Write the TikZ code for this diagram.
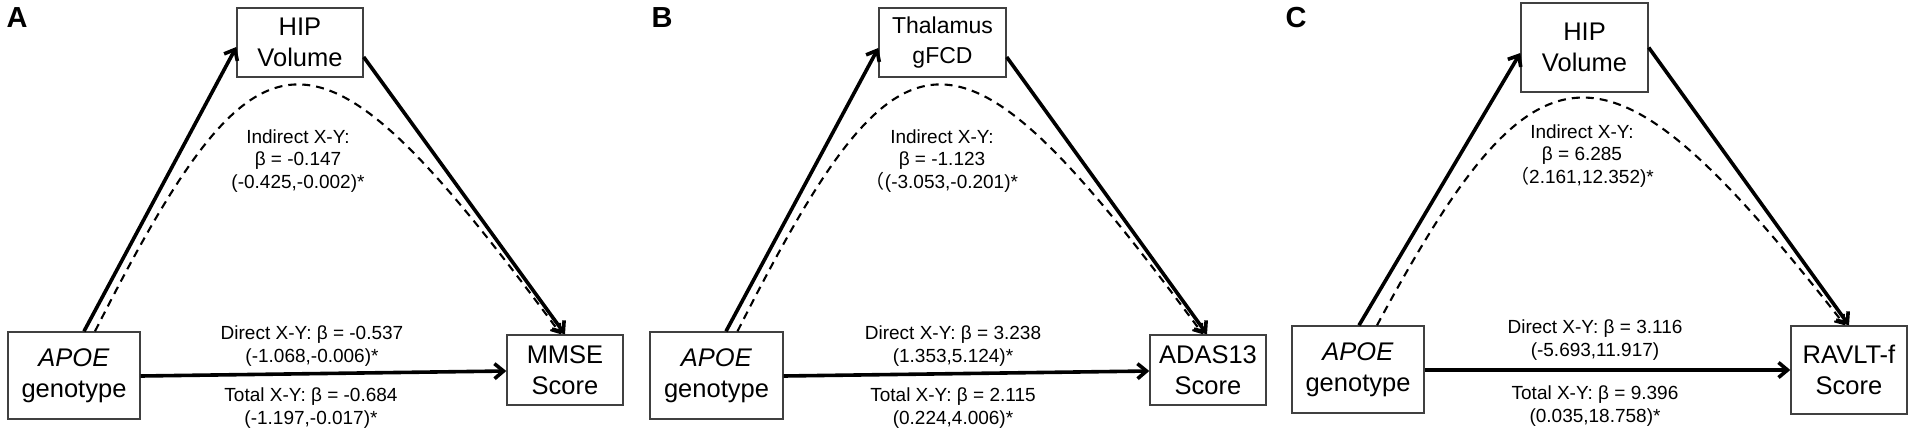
\documentclass[tikz,border=0pt]{standalone}
\usepackage{fontspec}
\setmainfont{Liberation Sans}
\newfontfamily\cjk{Noto Sans CJK SC}
\usetikzlibrary{arrows.meta,calc}
\begin{document}
\begin{tikzpicture}[x=1pt,y=-1pt,
  box/.style={draw=black!75,line width=1.4pt,inner sep=0pt,align=center,font=\fontsize{25.5}{31}\selectfont},
  lbl/.style={align=center,inner sep=0pt,font=\fontsize{19}{22.8}\selectfont},
  panellbl/.style={inner sep=0pt,font=\fontsize{29}{29}\selectfont\bfseries},
  effarrow/.style={line width=3.6pt,-{Straight Barb[length=9pt,width=15pt]}},
  indarrow/.style={line width=2.1pt,dash pattern=on 8pt off 6pt,-{Straight Barb[length=8pt,width=12pt]}}]
\useasboundingbox (0,0) rectangle (1917,437);

% ---------- Panel A ----------
\node[panellbl] (labA) at (17,18) {A};
\node[box,minimum width=132pt,minimum height=87pt] (xA) at (74,375.5) {\textit{APOE}\\genotype};
\node[box,minimum width=126pt,minimum height=69pt] (mA) at (300,42.5) {HIP\\Volume};
\node[box,minimum width=116pt,minimum height=70pt] (yA) at (565,370) {MMSE\\Score};
\draw[effarrow] ([xshift=10pt]xA.north) -- ([yshift=-4.5pt]mA.west);
\draw[effarrow] ([yshift=-14.5pt]mA.east) -- (yA.north);
\draw[effarrow] ([yshift=-0.5pt]xA.east) -- ([yshift=-1pt]yA.west);
\draw[indarrow] ([xshift=21pt]xA.north) .. controls (262,2) and (315,2) .. ([xshift=-4pt]yA.north);
\node[lbl] (iA) at (298,161) {Indirect X-Y:\\β = -0.147\\(-0.425,-0.002)*};
\node[lbl] (dA) at (312,346) {Direct X-Y: β = -0.537\\(-1.068,-0.006)*};
\node[lbl] (tA) at (311,408) {Total X-Y: β = -0.684\\(-1.197,-0.017)*};

% ---------- Panel B ----------
\node[panellbl] (labB) at (662,18) {B};
\node[box,minimum width=133pt,minimum height=87pt] (xB) at (716.5,375.5) {\textit{APOE}\\genotype};
\node[box,minimum width=127pt,minimum height=69pt,font=\fontsize{23}{30}\selectfont] (mB) at (942.5,42.5) {Thalamus\\gFCD};
\node[box,minimum width=116pt,minimum height=70pt] (yB) at (1208,370) {ADAS13\\Score};
\draw[effarrow] ([xshift=9.5pt]xB.north) -- ([yshift=-5.5pt]mB.west);
\draw[effarrow] ([yshift=-14.5pt]mB.east) -- ([xshift=-1pt]yB.north);
\draw[effarrow] ([yshift=-0.5pt]xB.east) -- ([yshift=-1pt]yB.west);
\draw[indarrow] ([xshift=21pt]xB.north) .. controls (904,2) and (957,2) .. ([xshift=-5pt]yB.north);
\node[lbl] (iB) at (942,161) {Indirect X-Y:\\β = -1.123\\{\cjk （}(-3.053,-0.201)*};
\node[lbl] (dB) at (953,346) {Direct X-Y: β = 3.238\\(1.353,5.124)*};
\node[lbl] (tB) at (953,408) {Total X-Y: β = 2.115\\(0.224,4.006)*};

% ---------- Panel C ----------
\node[panellbl] (labC) at (1296,18) {C};
\node[box,minimum width=132pt,minimum height=87pt] (xC) at (1358,369.5) {\textit{APOE}\\genotype};
\node[box,minimum width=127pt,minimum height=89pt] (mC) at (1584.5,47.5) {HIP\\Volume};
\node[box,minimum width=116pt,minimum height=88pt] (yC) at (1849,370) {RAVLT-f\\Score};
\draw[effarrow] ([xshift=1pt]xC.north) -- ([yshift=-5.5pt]mC.west);
\draw[effarrow] (mC.east) -- (yC.north);
\draw[effarrow] ([yshift=-0.5pt]xC.east) -- (yC.west);
\draw[indarrow] ([xshift=19pt]xC.north) .. controls (1540,22) and (1607,22) .. ([xshift=-4pt]yC.north);
\node[lbl] (iC) at (1582,156) {Indirect X-Y:\\β = 6.285\\{\cjk （}2.161,12.352)*};
\node[lbl] (dC) at (1595,340) {Direct X-Y: β = 3.116\\(-5.693,11.917)};
\node[lbl] (tC) at (1595,406) {Total X-Y: β = 9.396\\(0.035,18.758)*};
\end{tikzpicture}
\end{document}
